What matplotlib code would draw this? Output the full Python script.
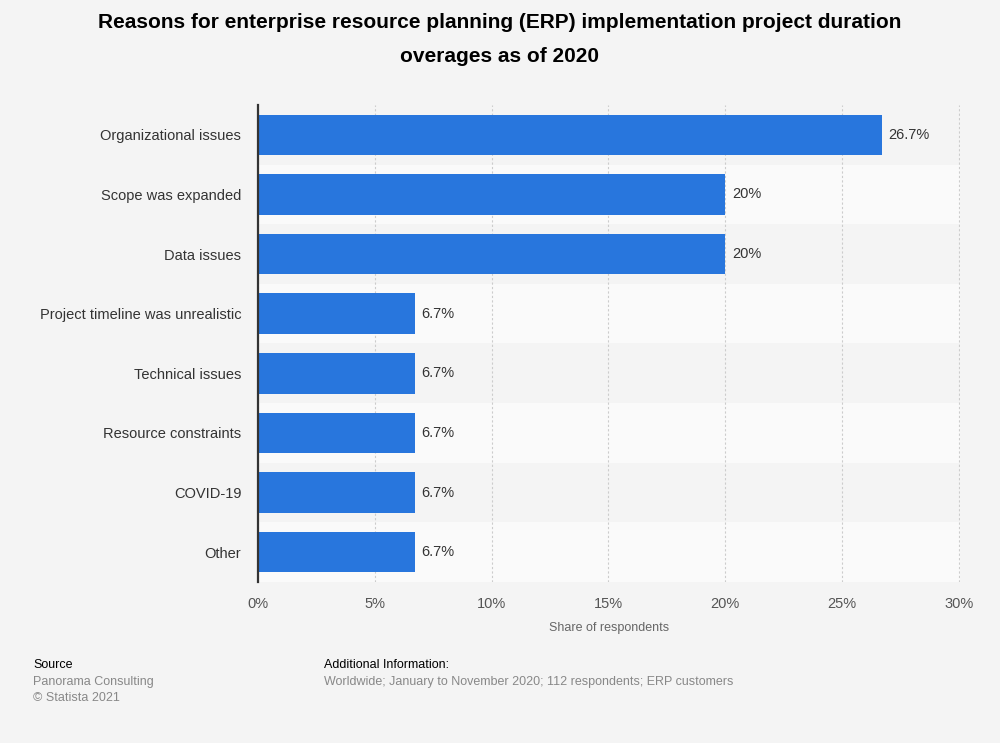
import matplotlib
matplotlib.use("Agg")
import matplotlib.pyplot as plt
import numpy as np

categories = ["Organizational issues", "Scope was expanded", "Data issues",
              "Project timeline was unrealistic", "Technical issues",
              "Resource constraints", "COVID-19", "Other"]
values = [26.7, 20, 20, 6.7, 6.7, 6.7, 6.7, 6.7]
value_labels = ["26.7%", "20%", "20%", "6.7%", "6.7%", "6.7%", "6.7%", "6.7%"]
xticks = [0, 5, 10, 15, 20, 25, 30]

plt.rcParams['font.family'] = ['Liberation Sans', 'DejaVu Sans']

bg = "#f4f4f4"
fig = plt.figure(figsize=(10, 7.43), dpi=100, facecolor=bg)
ax = fig.add_axes([0.258, 0.2167, 0.702, 0.642])
ax.set_facecolor(bg)

n = len(categories)
y = np.arange(n)

# alternating row bands
for i in range(n):
    if i % 2 == 1:
        ax.axhspan(i - 0.5, i + 0.5, color="#fafafa", zorder=0, lw=0)

ax.barh(y, values, height=0.68, color="#2876dd", zorder=3)
for yi, v, lab in zip(y, values, value_labels):
    ax.text(v + 0.3, yi, lab, va="center", ha="left", fontsize=10.5, color="#333333", zorder=4)

ax.set_xlim(0, 30.05)
ax.set_ylim(n - 0.5, -0.5)
ax.set_yticks(y)
ax.set_yticklabels(categories, fontsize=10.5, color="#333333")
ax.set_xticks(xticks)
ax.set_xticklabels([f"{t}%" for t in xticks], fontsize=10.5, color="#555555")
ax.tick_params(axis="both", length=0)
ax.tick_params(axis="y", pad=12)
ax.tick_params(axis="x", pad=11)
ax.grid(axis="x", linestyle=(0, (2, 2)), color="#cccccc", lw=0.8, zorder=1)
ax.set_axisbelow(True)
for s in ["top", "right", "bottom"]:
    ax.spines[s].set_visible(False)
ax.spines["left"].set_color("#333333")
ax.spines["left"].set_linewidth(1.6)
ax.spines["left"].set_zorder(5)
ax.set_xlabel("Share of respondents", fontsize=9, color="#666666", labelpad=8)

fig.text(0.5, 1 - 22 / 743,
         "Reasons for enterprise resource planning (ERP) implementation project duration",
         ha="center", va="center", fontsize=15, fontweight="bold", color="#000000")
fig.text(0.5, 1 - 57 / 743, "overages as of 2020",
         ha="center", va="center", fontsize=15, fontweight="bold", color="#000000")

fig.text(0.033, 1 - 665 / 743, "Source", fontsize=9, color="#000000", va="center")
fig.text(0.033, 1 - 682 / 743, "Panorama Consulting", fontsize=9, color="#888888", va="center")
fig.text(0.033, 1 - 698 / 743, "\u00a9 Statista 2021", fontsize=9, color="#888888", va="center")
fig.text(0.324, 1 - 665 / 743, "Additional Information:", fontsize=9, color="#000000", va="center")
fig.text(0.324, 1 - 682 / 743, "Worldwide; January to November 2020; 112 respondents; ERP customers",
         fontsize=9, color="#888888", va="center")

plt.savefig("out.png", dpi=100, facecolor=bg)
